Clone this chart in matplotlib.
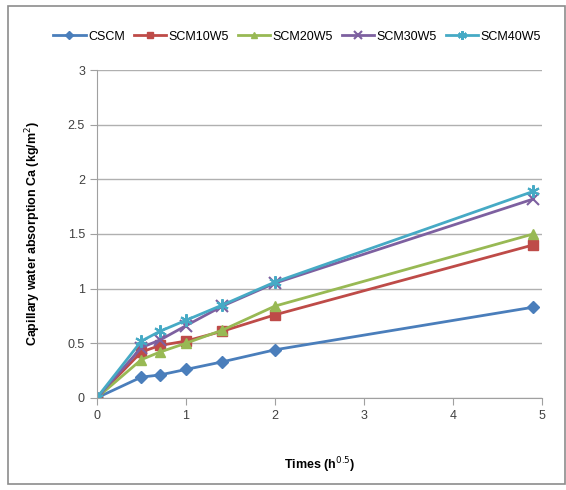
import matplotlib
matplotlib.use('Agg')
import matplotlib.pyplot as plt
from matplotlib.patches import Rectangle

# time axis (h^0.5)
times = [0, 0.5, 0.71, 1.0, 1.41, 2.0, 4.9]

names = ["CSCM", "SCM10W5", "SCM20W5", "SCM30W5", "SCM40W5"]
cscm = [0, 0.19, 0.21, 0.26, 0.33, 0.44, 0.83]
scm10 = [0, 0.42, 0.48, 0.52, 0.61, 0.76, 1.40]
scm20 = [0, 0.35, 0.42, 0.50, 0.62, 0.84, 1.50]
scm30 = [0, 0.46, 0.53, 0.66, 0.84, 1.05, 1.82]
scm40 = [0, 0.52, 0.61, 0.71, 0.85, 1.06, 1.89]

y_ticks = [0, 0.5, 1, 1.5, 2, 2.5, 3]
y_labels = ["0", "0.5", "1", "1.5", "2", "2.5", "3"]


def main():
    plt.rcParams['font.family'] = ['Liberation Sans', 'DejaVu Sans']
    fig = plt.figure(figsize=(5.66, 4.9), dpi=100)
    ax = fig.add_axes([0.171, 0.188, 0.787, 0.669])

    # outer chart frame
    fig.patches.append(Rectangle((0.014, 0.012), 0.984, 0.976, transform=fig.transFigure,
                                 fill=False, edgecolor='#8c8c8c', linewidth=1.2))

    series = [cscm, scm10, scm20, scm30, scm40]
    colors = ['#4a7ebb', '#be4b48', '#98b954', '#7d60a0', '#46aac5']
    markers = ['D', 's', '^', 'x', (6, 2, 0)]
    sizes = [6, 7, 7, 8, 9]
    for vals, name, c, m, s in zip(series, names, colors, markers, sizes):
        ax.plot(times, vals, color=c, marker=m, markersize=s, linewidth=2,
                markeredgewidth=1.5 if m in ('x', (6, 2, 0)) else 1,
                markeredgecolor=c, label=name)

    ax.set_xlim(0, 5)
    ax.set_ylim(0, 3)
    ax.set_xticks(range(6))
    ax.set_yticks(y_ticks)
    ax.set_yticklabels(y_labels)
    ax.yaxis.grid(True, color='#b0b0b0', linewidth=1)
    ax.set_axisbelow(True)
    for sp in ['top', 'right']:
        ax.spines[sp].set_visible(False)
    ax.spines['left'].set_color('#a0a0a0')
    ax.spines['bottom'].set_color('#a0a0a0')
    ax.tick_params(axis='y', length=5, color='#a0a0a0', labelsize=9, labelcolor='#404040')
    ax.tick_params(axis='x', length=5, color='#a0a0a0', labelsize=9, labelcolor='#404040')

    ax.set_xlabel('Times (h$^{0.5}$)', fontsize=9, fontweight='bold', labelpad=24)
    ax.set_ylabel('Capillary water absorption Ca (kg/m$^{2}$)', fontsize=9,
                  fontweight='bold', labelpad=18)

    ax.legend(loc='center', bbox_to_anchor=(0.525, 0.925), bbox_transform=fig.transFigure,
              ncol=5, frameon=False, fontsize=9, handlelength=2.6, handletextpad=0.2,
              columnspacing=0.7, markerscale=0.7)

    fig.savefig('out.png', dpi=100)


if __name__ == '__main__':
    main()
